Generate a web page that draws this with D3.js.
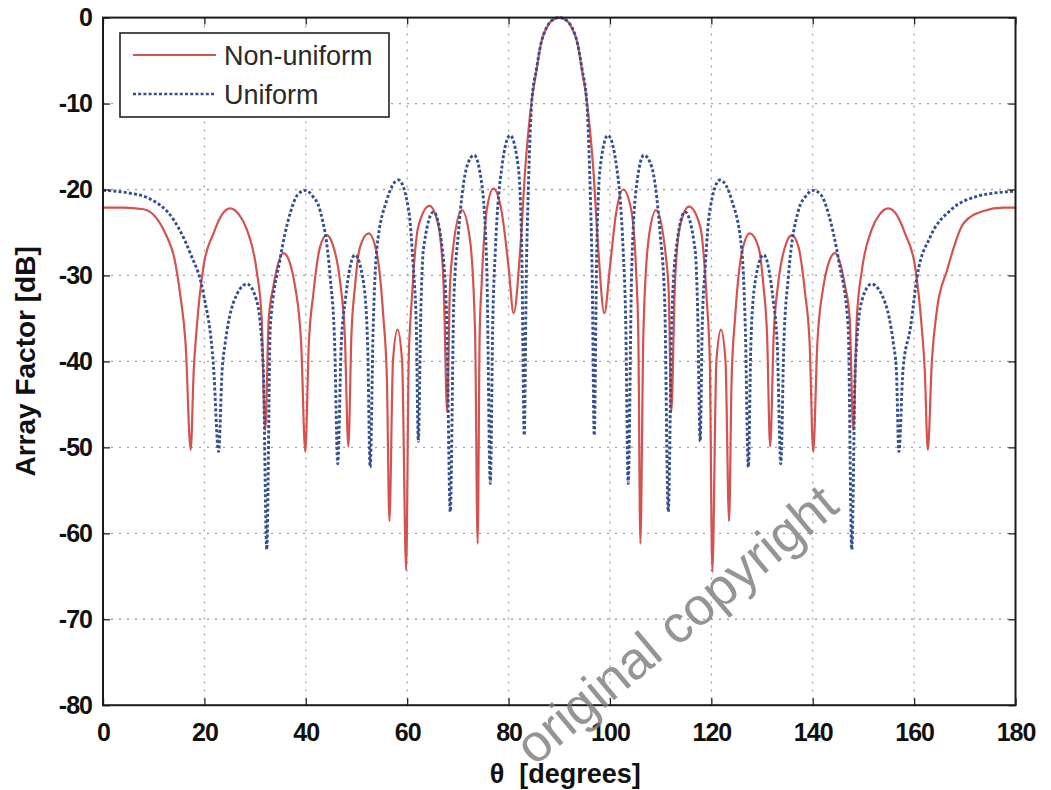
<!DOCTYPE html>
<html>
<head>
<meta charset="utf-8">
<script src="https://cdn.jsdelivr.net/npm/d3@7/dist/d3.min.js"></script>
<style>
  html, body { margin: 0; padding: 0; background: #ffffff; }
  svg { display: block; }
  text { font-family: "Liberation Sans", Arial, Helvetica, sans-serif; }
</style>
</head>
<body>
<svg id="chart" width="1051" height="790"></svg>
<script>
// ---------------- data ----------------
const xTicks = [0, 20, 40, 60, 80, 100, 120, 140, 160, 180];
const yTicks = [0, -10, -20, -30, -40, -50, -60, -70, -80];
const xTickLabels = ["0", "20", "40", "60", "80", "100", "120", "140", "160", "180"];
const yTickLabels = ["0", "-10", "-20", "-30", "-40", "-50", "-60", "-70", "-80"];
const seriesNames = ["Non-uniform", "Uniform"];

// Non-uniform array factor [theta (deg), dB]
const nonUniform = [
  [0,-22.1],[4,-22.1],[8,-22.3],[10.5,-23.3],[12.6,-25.5],[14,-27.8],[15.2,-32.1],[16.3,-38],[17.3,-50.3],[17.9,-41],
  [18.5,-36.0],[19.8,-29.0],[21.8,-25.1],[23.5,-22.9],[25.1,-22.2],[26.8,-22.9],[28.4,-24.7],[30.3,-29.4],[31.3,-35],
  [32.0,-48],[32.7,-35],[33.6,-31.3],[35.6,-27.4],[37.0,-28.8],[37.9,-31.3],[39.1,-38],[39.9,-50.5],[40.6,-38],
  [41.5,-32.1],[42.8,-26.7],[44.1,-25.3],[45.2,-26.2],[46.8,-30.9],[47.7,-37],[48.4,-49.9],[49.0,-37],[49.7,-31.3],
  [50.7,-26.7],[52.4,-25.1],[54.0,-27.4],[55.3,-34.8],[56.0,-42],[56.5,-58.6],[57.2,-40],[58.1,-36.3],[59.0,-40],
  [59.8,-64.3],[60.3,-40],[60.9,-32.9],[62.2,-24.3],[64.4,-21.9],[66.2,-24.3],[67.2,-31.3],[67.9,-45.9],[68.4,-32],
  [68.8,-28.2],[70.8,-22.4],[72.4,-25.9],[73.4,-36.7],[73.9,-61.2],[74.3,-37],[74.7,-30.9],[75.7,-22.4],[77.0,-19.9],
  [78.7,-22.8],[80.0,-29.0],[81.0,-34.4],[82.3,-27.0],[83.3,-17.5],[84.5,-10],[85.5,-6.2],[86.4,-3.0],[87.5,-1.2],
  [88.5,-0.35],[90,0],
  [91.5,-0.35],[92.5,-1.2],[93.6,-3.0],[94.5,-6.2],[95.5,-10],[96.7,-17.5],[97.7,-27],[98.9,-34.4],[100,-29],
  [101.2,-22.8],[102.6,-20],[104.2,-22.4],[105.2,-30],[105.6,-37],[106.0,-61.2],[106.6,-36.7],[107.6,-25.9],
  [109.1,-22.4],[111.1,-28.2],[111.6,-32],[112.1,-45.9],[112.8,-31.3],[113.8,-24.3],[115.6,-22.0],[117.8,-24.3],
  [119.1,-32.9],[119.7,-40],[120.2,-64.5],[121.0,-40],[121.9,-36.3],[122.8,-40],[123.5,-58.6],[124.0,-42],
  [124.7,-34.8],[126.0,-27.4],[127.6,-25.1],[129.3,-26.7],[130.3,-31.3],[131.0,-37],[131.6,-49.9],[132.3,-37],
  [133.2,-30.9],[134.8,-26.2],[135.9,-25.3],[137.2,-26.7],[138.5,-32.1],[139.4,-38],[140.1,-50.5],[140.9,-38],
  [142.1,-31.3],[143,-28.8],[144.4,-27.4],[146.4,-31.3],[147.3,-35],[148.0,-48],[148.7,-35],[149.7,-29.4],
  [151.6,-24.7],[153.2,-22.9],[154.9,-22.2],[156.5,-22.9],[158.2,-25.1],[160.2,-29.0],[161.5,-36.0],[162.1,-41],
  [162.7,-50.3],[163.5,-40],[164.5,-34.0],[166.5,-29.4],[169.8,-23.9],[173.7,-22.5],[177.6,-22.1],[180,-22.1]
];

// Uniform array factor [theta (deg), dB]
const uniform = [
  [0,-20.1],[5,-20.4],[9.3,-21.1],[13.9,-23.5],[17.2,-27.4],[19.8,-32.1],[21.8,-40.6],[22.8,-50.5],[23.5,-41],
  [24.1,-37.9],[25.7,-33.2],[28.4,-31.0],[30.3,-32.9],[31.6,-40.6],[32.3,-61.9],[33.0,-36.0],[34.9,-28.2],
  [36.9,-22.8],[38.4,-20.6],[39.9,-20.1],[41.4,-20.8],[42.8,-22.4],[44.8,-30.1],[45.7,-38],[46.3,-51.9],[47.0,-38],
  [47.8,-32.9],[49.7,-27.6],[51.4,-30.9],[52.2,-38],[52.7,-52.3],[53.3,-36],[54.0,-27.0],[56.0,-21.2],[58.3,-18.9],
  [60.3,-22.4],[61.2,-29.0],[61.8,-36],[62.2,-49.3],[62.7,-34],[63.2,-27.0],[65.2,-22.6],[66.8,-26.3],[67.8,-35],
  [68.5,-57.5],[69.2,-33],[70.1,-25.1],[71.8,-17.3],[73.2,-16.0],[74.7,-19.3],[75.7,-29.0],[76.4,-54.2],[76.9,-35],
  [77.4,-27],[78.7,-17.3],[80.3,-13.7],[81.9,-17.3],[82.6,-27],[83.1,-48.6],[83.5,-30],[83.9,-20],[84.55,-10],
  [85.5,-6],[86.4,-3.0],[87.5,-1.15],[88.5,-0.35],[90,0],
  [91.5,-0.35],[92.5,-1.15],[93.6,-3.0],[94.5,-6],[95.45,-10],[96.1,-20],[96.5,-30],[96.9,-48.6],[97.4,-27],
  [98.1,-17.3],[99.6,-13.7],[101.3,-17.3],[102.6,-27],[103.1,-35],[103.6,-54.2],[104.3,-29.0],[105.3,-19.3],
  [106.7,-16.0],[108.2,-17.3],[109.9,-25.1],[110.8,-33],[111.5,-57.5],[112.2,-35],[113.2,-26.3],[114.8,-22.6],
  [116.8,-27.0],[117.3,-34],[117.8,-49.3],[118.2,-36],[118.8,-29.0],[119.7,-22.4],[121.7,-18.9],[124.0,-21.2],
  [126.0,-27.0],[126.7,-36],[127.3,-52.3],[127.8,-38],[128.6,-30.9],[130.3,-27.6],[132.2,-32.9],[133.0,-38],
  [133.7,-51.9],[134.3,-38],[135.2,-30.1],[137.2,-22.4],[138.6,-20.8],[140.1,-20.1],[141.6,-20.6],[143.1,-22.8],
  [145.1,-28.2],[147.0,-36.0],[147.7,-61.9],[148.4,-40.6],[149.7,-32.9],[151.6,-31.0],[154.3,-33.2],[155.9,-37.9],
  [156.5,-41],[157.0,-50.5],[157.8,-41],[159.3,-36.0],[160.6,-30.1],[163.2,-25.5],[167.2,-22.4],[172.4,-20.8],
  [176,-20.4],[180,-20.2]
];

// ---------------- layout ----------------
const W = 1051, H = 790;
const plot = { left: 103, right: 1015.5, top: 17.6, bottom: 705.2 };
const redColor = "#d4524f";
const blueColor = "#34508f";

const svg = d3.select("#chart");
svg.append("rect").attr("width", W).attr("height", H).attr("fill", "#ffffff");

const x = d3.scaleLinear().domain([0, 180]).range([plot.left, plot.right]);
const y = d3.scaleLinear().domain([-80, 0]).range([plot.bottom, plot.top]);

// grid
const grid = svg.append("g").attr("class", "grid");
grid.selectAll("line.vx").data(xTicks.slice(1, -1)).enter().append("line")
  .attr("x1", d => x(d)).attr("x2", d => x(d))
  .attr("y1", plot.top).attr("y2", plot.bottom)
  .attr("stroke", "#a3a3a3").attr("stroke-width", 1.3).attr("stroke-dasharray", "2,6");
grid.selectAll("line.hy").data(yTicks.slice(1, -1)).enter().append("line")
  .attr("x1", plot.left).attr("x2", plot.right)
  .attr("y1", d => y(d)).attr("y2", d => y(d))
  .attr("stroke", "#a3a3a3").attr("stroke-width", 1.3).attr("stroke-dasharray", "2,6");

// clip
svg.append("clipPath").attr("id", "clip").append("rect")
  .attr("x", plot.left).attr("y", plot.top - 2)
  .attr("width", plot.right - plot.left).attr("height", plot.bottom - plot.top + 2);

const line = d3.line().x(d => x(d[0])).y(d => y(d[1])).curve(d3.curveMonotoneX);

const curves = svg.append("g").attr("clip-path", "url(#clip)");
curves.append("path").datum(nonUniform).attr("d", line)
  .attr("fill", "none").attr("stroke", redColor).attr("stroke-width", 2.2)
  .attr("stroke-linejoin", "round");
curves.append("path").datum(uniform).attr("d", line)
  .attr("fill", "none").attr("stroke", blueColor).attr("stroke-width", 2.9)
  .attr("stroke-dasharray", "3,2.2");

// axes (inward ticks on all sides)
const tickLen = 7;
const axisFont = 25;
const gB = svg.append("g").attr("transform", `translate(0,${plot.bottom})`)
  .call(d3.axisBottom(x).tickValues(xTicks).tickSizeInner(-tickLen).tickSizeOuter(0).tickPadding(18)
    .tickFormat((d, i) => xTickLabels[i]));
const gT = svg.append("g").attr("transform", `translate(0,${plot.top})`)
  .call(d3.axisTop(x).tickValues(xTicks).tickSizeInner(-tickLen).tickSizeOuter(0).tickFormat(""));
const gL = svg.append("g").attr("transform", `translate(${plot.left},0)`)
  .call(d3.axisLeft(y).tickValues(yTicks).tickSizeInner(-tickLen).tickSizeOuter(0).tickPadding(11)
    .tickFormat((d, i) => yTickLabels[i]));
const gR = svg.append("g").attr("transform", `translate(${plot.right},0)`)
  .call(d3.axisRight(y).tickValues(yTicks).tickSizeInner(-tickLen).tickSizeOuter(0).tickFormat(""));

[gB, gT, gL, gR].forEach(g => {
  g.select(".domain").remove();
  g.selectAll(".tick line").attr("stroke", "#222").attr("stroke-width", 1.3);
  g.selectAll(".tick text").attr("fill", "#111").attr("font-size", axisFont)
    .attr("font-weight", "bold").attr("letter-spacing", "-1px")
    .attr("font-family", '"Liberation Sans", Arial, sans-serif');
});

// frame
svg.append("rect")
  .attr("x", plot.left).attr("y", plot.top)
  .attr("width", plot.right - plot.left).attr("height", plot.bottom - plot.top)
  .attr("fill", "none").attr("stroke", "#1a1a1a").attr("stroke-width", 2);

// axis titles
svg.append("text")
  .attr("x", (plot.left + plot.right) / 2 + 6).attr("y", 783)
  .attr("text-anchor", "middle").attr("font-size", 27).attr("font-weight", "bold").attr("fill", "#111")
  .style("white-space", "pre")
  .text("θ  [degrees]");
svg.append("text")
  .attr("transform", `translate(35,${(plot.top + plot.bottom) / 2}) rotate(-90)`)
  .attr("text-anchor", "middle").attr("font-size", 28).attr("font-weight", "bold").attr("fill", "#111")
  .text("Array Factor [dB]");

// legend
const lg = svg.append("g");
lg.append("rect").attr("x", 120).attr("y", 33).attr("width", 269).attr("height", 84)
  .attr("fill", "#ffffff").attr("stroke", "#222").attr("stroke-width", 1.6);
const legendItems = [
  { name: seriesNames[0], color: redColor, dash: null, w: 2.2, yy: 55 },
  { name: seriesNames[1], color: blueColor, dash: "3,2.2", w: 2.4, yy: 94 }
];
legendItems.forEach(it => {
  lg.append("line").attr("x1", 133).attr("x2", 216).attr("y1", it.yy).attr("y2", it.yy)
    .attr("stroke", it.color).attr("stroke-width", it.w)
    .attr("stroke-dasharray", it.dash);
  lg.append("text").attr("x", 224).attr("y", it.yy).attr("dy", "0.36em")
    .attr("font-size", 27).attr("fill", "#2a2a2a").text(it.name);
});

// watermark present in the reference image
svg.append("text")
  .attr("transform", "translate(676,624) rotate(-40)")
  .attr("text-anchor", "middle").attr("dy", "0.35em")
  .attr("font-size", 53).attr("fill", "#7a7a7a").attr("fill-opacity", 0.8)
  .text("original copyright");
</script>
</body>
</html>
